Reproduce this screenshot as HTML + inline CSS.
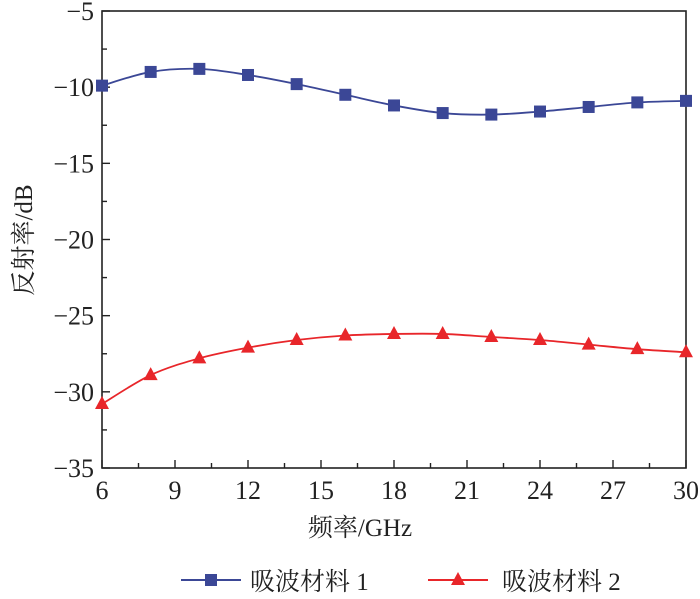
<!DOCTYPE html>
<html><head><meta charset="utf-8"><style>
body{margin:0;background:#fff;}
svg text{font-family:"Liberation Serif","Noto Serif CJK SC",serif;fill:#222;}
</style></head><body>
<svg id="chart" width="700" height="594">
<g id="axes"></g><g id="series"></g>
<text x="360" y="536" font-size="25" text-anchor="middle">频率/GHz</text>
<text transform="translate(32,240) rotate(-90)" font-size="25" text-anchor="middle">反射率/dB</text>
<g>
<g>
<line x1="181" y1="580" x2="241" y2="580" stroke="#3b4796" stroke-width="2"/>
<rect x="205" y="574" width="12" height="12" fill="#3b4796"/>
<text x="250" y="590" font-size="25">吸波材料 1</text></g>
<g>
<line x1="428" y1="580" x2="488" y2="580" stroke="#e8262a" stroke-width="2"/>
<polygon points="458,572 465,585 451,585" fill="#e8262a"/>
<text x="502" y="590" font-size="25">吸波材料 2</text></g>
</g>
</svg>
<script>
const freqs=[6,8,10,12,14,16,18,20,22,24,26,28,30];
const material1=[-9.9,-9.0,-8.8,-9.2,-9.8,-10.5,-11.2,-11.7,-11.8,-11.6,-11.3,-11.0,-10.9];
const material2=[-30.8,-28.9,-27.8,-27.1,-26.6,-26.3,-26.2,-26.2,-26.4,-26.6,-26.9,-27.2,-27.4];
const xTicks=[6,9,12,15,18,21,24,27,30];
const yTicks=[-5,-10,-15,-20,-25,-30,-35];
const X0=102,X1=686,Y0=11,Y1=468;
const xs=v=>X0+(v-6)/24*(X1-X0);
const ys=v=>Y0+(-5-v)/30*(Y1-Y0);
const NS='http://www.w3.org/2000/svg';
function mk(t,a,p){const e=document.createElementNS(NS,t);for(const k in a)e.setAttribute(k,a[k]);p.appendChild(e);return e;}
const ax=document.getElementById('axes'),sg=document.getElementById('series');
const frame=mk('rect',{x:X0,y:Y0,width:X1-X0,height:Y1-Y0,fill:'none',stroke:'#222','stroke-width':1.6},ax);


for(let v=6;v<=30.01;v+=1.5){const x=xs(v);const major=Math.abs((v-6)%3)<0.01;mk('line',{x1:x,y1:Y1,x2:x,y2:Y1-(major?8:5),stroke:'#222','stroke-width':1.4},ax);}
for(let v=-5;v>=-35.01;v-=2.5){const y=ys(v);const major=Math.abs(v%5)<0.01;mk('line',{x1:X0,y1:y,x2:X0+(major?8:5),y2:y,stroke:'#222','stroke-width':1.4},ax);}
xTicks.forEach(v=>{const t=mk('text',{x:xs(v),y:Y1+31,'font-size':26,'text-anchor':'middle'},ax);t.textContent=v;

});
yTicks.forEach(v=>{const t=mk('text',{x:X0-8,y:ys(v)+9,'font-size':26,'text-anchor':'end'},ax);t.textContent='\u2212'+Math.abs(v);

});
function smooth(pts){let d='M'+pts[0][0]+','+pts[0][1];for(let i=0;i<pts.length-1;i++){const p0=pts[Math.max(0,i-1)],p1=pts[i],p2=pts[i+1],p3=pts[Math.min(pts.length-1,i+2)];
d+=` C${p1[0]+(p2[0]-p0[0])/6},${p1[1]+(p2[1]-p0[1])/6} ${p2[0]-(p3[0]-p1[0])/6},${p2[1]-(p3[1]-p1[1])/6} ${p2[0]},${p2[1]}`;}return d;}
function draw(vals,color,shape,name){const pts=freqs.map((f,i)=>[xs(f),ys(vals[i])]);
const p=mk('path',{d:smooth(pts),fill:'none',stroke:color,'stroke-width':1.8},sg);


pts.forEach(([x,y])=>{let m;if(shape==='sq')m=mk('rect',{x:x-6,y:y-6,width:12,height:12,fill:color},sg);
else m=mk('polygon',{points:`${x},${y-8} ${x+7},${y+5} ${x-7},${y+5}`,fill:color},sg);

});}
draw(material1,'#3b4796','sq','material-1');
draw(material2,'#e8262a','tri','material-2');
</script>
</body></html>
